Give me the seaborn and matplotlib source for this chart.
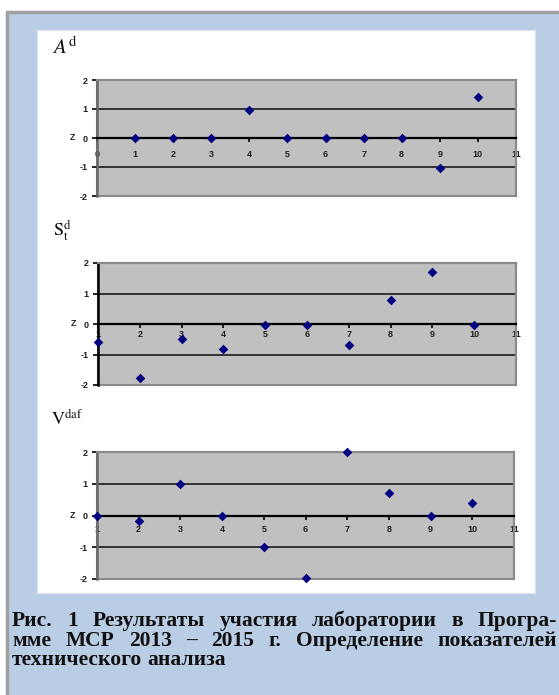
import matplotlib
matplotlib.use("Agg")
import matplotlib.pyplot as plt
from matplotlib.patches import Rectangle
import numpy as np
import pandas as pd
import seaborn as sns

# данные (z-оценки по участникам программы МСР)
participants = [1, 2, 3, 4, 5, 6, 7, 8, 9, 10]
z_ad = [0, 0, 0, 0.95, 0, 0, 0, 0, -1.02, 1.4]
z_std = [-0.6, -1.77, -0.5, -0.83, -0.03, -0.03, -0.7, 0.8, 1.72, -0.03]
z_vdaf = [0, -0.18, 1.0, 0, -1.0, -1.97, 2.0, 0.72, 0, 0.4]

y_ticks = [-2, -1, 0, 1, 2]
titles = [r'$A^{\mathrm{d}}$', r'$\mathrm{S}^{\mathrm{d}}_{\mathrm{t}}$', r'$\mathrm{V}^{\mathrm{daf}}$']
caption_lines = [
    'Рис. 1 Результаты  участия лаборатории в Програ-',
    'мме МСР 2013 – 2015 г. Определение показателей',
    'технического анализа',
]

sns.set_style("white")
plt.rcParams['font.family'] = ['Liberation Sans', 'DejaVu Sans']
plt.rcParams['axes.unicode_minus'] = False
plt.rcParams['mathtext.fontset'] = 'stix'

W, H = 559, 695
fig = plt.figure(figsize=(W / 100, H / 100), dpi=100)
fig.patch.set_facecolor('white')


def box(x0, y0, x1, y1):
    # пиксели (от верхнего левого угла) -> доли фигуры
    return [x0 / W, 1 - y1 / H, (x1 - x0) / W, (y1 - y0) / H]


# рамка и фон страницы
fig.add_artist(Rectangle((6.5 / W, -0.05), 1.2, 1.05 - 11.5 / H, transform=fig.transFigure,
                         facecolor='#b9cde5', edgecolor='#a0a0a0', lw=2.5, zorder=-3))
b = box(37, 30, 535, 593)
fig.add_artist(Rectangle((b[0], b[1]), b[2], b[3], transform=fig.transFigure,
                         facecolor='white', edgecolor='#dde6f0', lw=1, zorder=-2))

panels = [
    dict(y=z_ad, rect=(97, 80, 516, 196), xmin=0, left='#6a6a6a', pad=5.5, title=(52, 54, 15)),
    dict(y=z_std, rect=(98, 263, 516, 385), xmin=1, left='black', pad=1.5, title=(53, 236, 13)),
    dict(y=z_vdaf, rect=(97, 452, 514, 579), xmin=1, left='#6a6a6a', pad=3.5, title=(51, 425, 13)),
]

for p, title in zip(panels, titles):
    ax = fig.add_axes(box(*p['rect']))
    ax.set_facecolor('#c0c0c0')
    ax.patch.set_edgecolor('#8a8a8a')
    ax.patch.set_linewidth(1.5)

    df = pd.DataFrame({'участник': participants, 'z': p['y']})
    sns.scatterplot(data=df, x='участник', y='z', ax=ax, marker='D', s=24,
                    color='#000080', linewidth=0, clip_on=False, zorder=5)

    ax.set_xlim(p['xmin'], 11)
    ax.set_ylim(-2, 2)
    ax.set_xticks(range(p['xmin'], 12))
    ax.set_yticks(y_ticks)

    # ось X проходит через ноль
    ax.spines['bottom'].set_position(('data', 0))
    ax.spines['bottom'].set_color('black')
    ax.spines['bottom'].set_linewidth(1.6)
    ax.spines['left'].set_color(p['left'])
    ax.spines['left'].set_linewidth(1.8)
    for s in ['top', 'right']:
        ax.spines[s].set_color('#8a8a8a')
        ax.spines[s].set_linewidth(1.5)

    ax.yaxis.grid(True, color='#282828', lw=1.3)
    ax.xaxis.grid(False)
    for t, v in zip(ax.yaxis.get_major_ticks(), y_ticks):
        if abs(v) == 2 or v == 0:
            t.gridline.set_visible(False)

    ax.tick_params(axis='x', direction='out', length=3, width=1.2, color='black',
                   pad=p['pad'], labelsize=6.5, bottom=True)
    ax.tick_params(axis='y', direction='out', length=3.5, width=1.2, color='black',
                   pad=3, labelsize=6.5, left=True)
    for lab in ax.get_xticklabels() + ax.get_yticklabels():
        lab.set_fontweight('bold')
        lab.set_color('#202020')

    ax.set_xlabel('')
    ax.set_ylabel('Z', rotation=0, fontsize=6.5, fontweight='bold', color='#202020',
                  va='center', ha='center')
    ax.yaxis.set_label_coords(-0.058, 0.5)

    tx, ty, ts = p['title']
    fig.text(tx / W, 1 - ty / H, title, fontsize=ts, color='#101010', ha='left', va='baseline')

# подпись к рисунку (выровнена по ширине)
renderer = fig.canvas.get_renderer()
baselines = [626, 646, 665]
left_px = 12
right_px = [557, 557, None]
for line, yb, rp in zip(caption_lines, baselines, right_px):
    words = line.split()
    objs = [fig.text(0, 1 - yb / H, w, fontsize=15.5, fontweight='bold',
                     family=['Liberation Serif', 'DejaVu Serif'], color='#111111',
                     va='baseline', ha='left') for w in words]
    widths = [t.get_window_extent(renderer).width for t in objs]
    if rp is not None:
        gap = (rp - left_px - sum(widths)) / (len(words) - 1)
    else:
        gap = 5
    x = left_px
    for t, w in zip(objs, widths):
        t.set_x(x / W)
        x += w + gap

fig.savefig('out.png', dpi=100)
